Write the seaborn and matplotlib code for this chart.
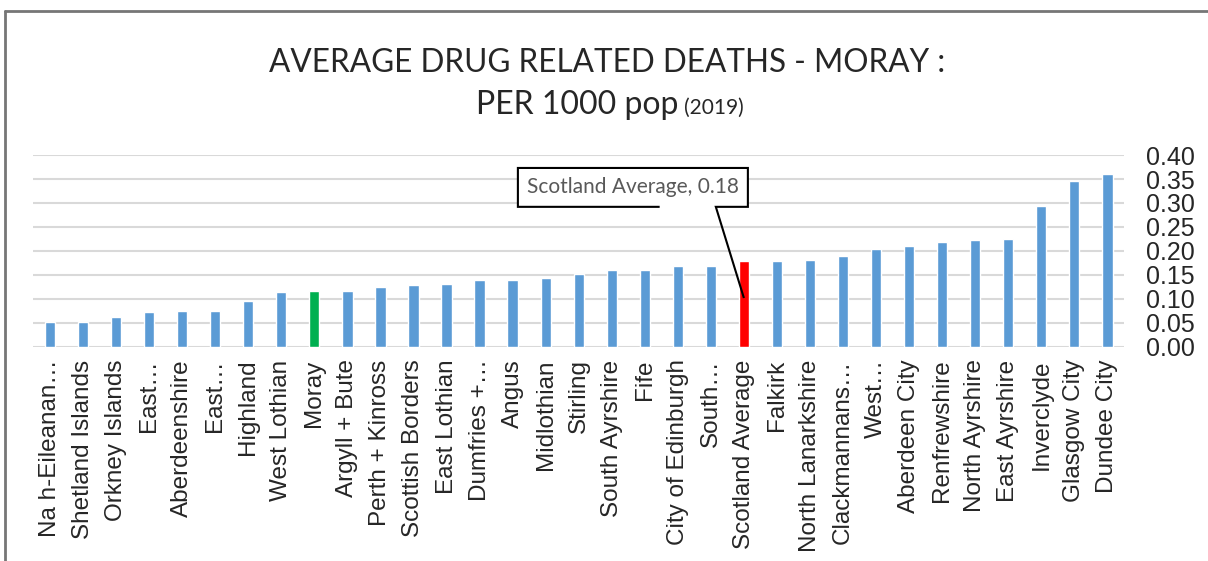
import pandas as pd
import seaborn as sns
import matplotlib.pyplot as plt
from matplotlib.patches import Polygon, Rectangle
from matplotlib.lines import Line2D

areas = ['Na h-Eileanan…', 'Shetland Islands', 'Orkney Islands', 'East…',
         'Aberdeenshire', 'East…', 'Highland', 'West Lothian', 'Moray',
         'Argyll + Bute', 'Perth + Kinross', 'Scottish Borders', 'East Lothian',
         'Dumfries +…', 'Angus', 'Midlothian', 'Stirling', 'South Ayrshire',
         'Fife', 'City of Edinburgh', 'South…', 'Scotland Average', 'Falkirk',
         'North Lanarkshire', 'Clackmannans…', 'West…', 'Aberdeen City',
         'Renfrewshire', 'North Ayrshire', 'East Ayrshire', 'Inverclyde',
         'Glasgow City', 'Dundee City']
deaths = [0.052, 0.052, 0.063, 0.073, 0.075, 0.075, 0.096, 0.114, 0.117,
          0.117, 0.126, 0.129, 0.131, 0.140, 0.140, 0.144, 0.152, 0.161,
          0.161, 0.168, 0.169, 0.180, 0.179, 0.182, 0.190, 0.205, 0.210,
          0.219, 0.222, 0.224, 0.294, 0.346, 0.361]
yticks = [0.00, 0.05, 0.10, 0.15, 0.20, 0.25, 0.30, 0.35, 0.40]

df = pd.DataFrame({'pos': range(len(areas)), 'area': areas, 'value': deaths})
df['kind'] = 'other'
df.loc[df['area'] == 'Moray', 'kind'] = 'moray'
df.loc[df['area'] == 'Scotland Average', 'kind'] = 'avg'
colors = {'other': '#5B9BD5', 'moray': '#00B050', 'avg': '#FF0000'}

sns.set_style('white')
plt.rcParams['font.family'] = ['Liberation Sans', 'DejaVu Sans']

fig = plt.figure(figsize=(12.08, 5.61), dpi=100)
ax = fig.add_axes([0.0277, 0.3815, 0.9027, 0.3422])

sns.barplot(data=df, x='pos', y='value', hue='kind', palette=colors,
            saturation=1, dodge=False, legend=False, width=0.31, ax=ax, zorder=2)

ax.set_xlim(-0.5, len(areas) - 0.5)
ax.set_ylim(0, 0.40)
ax.set_yticks(yticks)
ax.set_yticklabels([f'{t:.2f}' for t in yticks], fontsize=18)
ax.yaxis.tick_right()
ax.set_xticks(range(len(areas)))
ax.set_xticklabels(areas, rotation=90, fontsize=17.5)
ax.tick_params(axis='x', length=0, pad=9)
ax.tick_params(axis='y', length=0, pad=16)
ax.set_xlabel('')
ax.set_ylabel('')
for s in ax.spines.values():
    s.set_visible(False)
ax.grid(axis='y', color='#D9D9D9', linewidth=1.5, zorder=0)
ax.set_axisbelow(True)

# callout for Scotland average
bx0, bx1, by0, by1 = 14.16, 21.12, 0.292, 0.373
ax.add_patch(Rectangle((bx0, by0), bx1 - bx0, by1 - by0, facecolor='white',
                       edgecolor='none', zorder=4, clip_on=False))
ax.add_patch(Polygon([(18.45, by0), (bx0, by0), (bx0, by1), (bx1, by1), (bx1, by0),
                      (20.15, by0), (21.0, 0.102), (18.45, by0)],
                     closed=False, facecolor='none', edgecolor='black',
                     linewidth=1.5, zorder=5, clip_on=False))
ax.text((bx0 + bx1) / 2, (by0 + by1) / 2, 'Scotland Average, 0.18',
        ha='center', va='center', fontsize=15, color='#595959',
        family=['Lato', 'DejaVu Sans'], zorder=6)

# title
fig.text(0.503, 1 - 72 / 561, 'AVERAGE DRUG RELATED DEATHS - MORAY :',
         ha='center', va='baseline', fontsize=22.7, family=['Lato', 'DejaVu Sans'])
fig.text(678 / 1208, 1 - 114 / 561, 'PER 1000 pop', ha='right', va='baseline',
         fontsize=23, family=['Lato', 'DejaVu Sans'])
fig.text(684 / 1208, 1 - 114 / 561, '(2019)', ha='left', va='baseline',
         fontsize=15, family=['Lato', 'DejaVu Sans'])

# frame edges
fig.add_artist(Line2D([5 / 1208, 1], [1 - 11 / 561] * 2, color='#767676', linewidth=2))
fig.add_artist(Line2D([5 / 1208] * 2, [0, 1 - 11 / 561], color='#767676', linewidth=2))

plt.savefig('out.png', dpi=100)
